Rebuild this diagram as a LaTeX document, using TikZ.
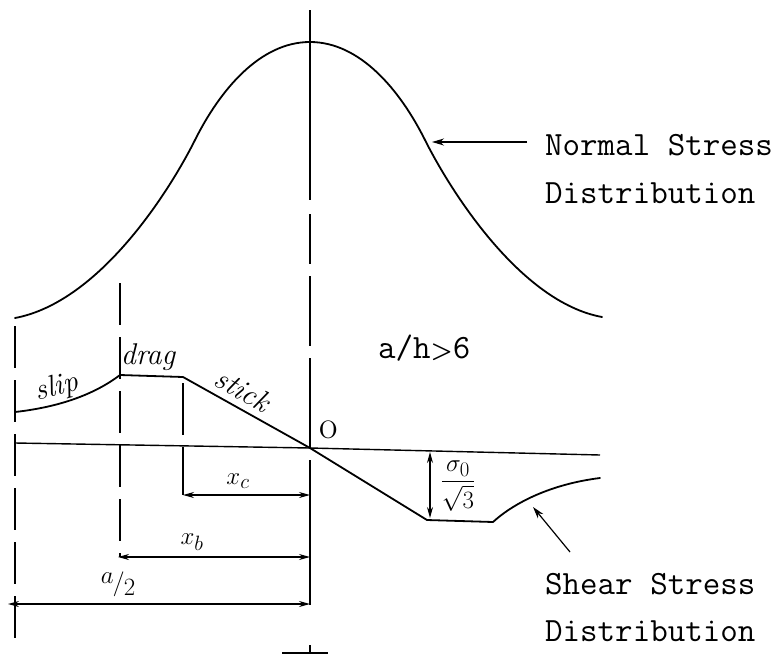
\documentclass[tikz,border=0pt]{standalone}
\usepackage{amsmath}
\usetikzlibrary{arrows.meta}
\begin{document}
\begin{tikzpicture}[x=1pt,y=-1pt,
  curve/.style={line width=1.8pt, line join=round, line cap=round},
  axisline/.style={line width=1.4pt},
  guide/.style={line width=1.4pt, dash pattern=on 42pt off 12pt},
  dimline/.style={line width=1.2pt, {Stealth[length=11pt,width=6pt]}-{Stealth[length=11pt,width=6pt]}},
  pointer/.style={line width=1.2pt, -{Stealth[length=12pt,width=7pt]}},
  hand/.style={font=\fontsize{30}{34}\selectfont\itshape, inner sep=0pt},
  typed/.style={font=\fontsize{34}{40}\selectfont\ttfamily, anchor=base west, inner sep=0pt}]
\useasboundingbox (0,0) rectangle (781,656);

% normal stress distribution
\coordinate (nL) at (15,318);
\coordinate (nIL) at (195,140);
\coordinate (nP) at (310,42);
\coordinate (nIR) at (425,140);
\coordinate (nR) at (602,317);
\draw[curve] (nL) .. controls (100,302) and (170,190) .. (nIL)
  .. controls (220,90) and (260,42) .. (nP)
  .. controls (360,42) and (400,90) .. (nIR)
  .. controls (450,190) and (520,302) .. (nR);

% shear stress distribution
\coordinate (s0) at (15,412);
\coordinate (d1) at (120,375);
\coordinate (d2) at (183,377);
\coordinate (O)  at (310,448);
\coordinate (b1) at (427,520);
\coordinate (b2) at (493,522);
\coordinate (s9) at (600,478);
\draw[curve] (s0) .. controls (60,407) and (95,394) .. (d1) -- (d2) -- (O) -- (b1) -- (b2)
  .. controls (515,502) and (552,484) .. (s9);

% axis
\coordinate (axL) at (15,443);
\coordinate (axR) at (600,455);
\draw[axisline] (axL) -- (O) -- (axR);

% guide lines
\coordinate (cTop) at (310,10);
\coordinate (cBot) at (310,605);
\draw[guide, dash pattern=on 190pt off 14pt on 50pt off 12pt on 70pt off 12pt on 90pt off 12pt on 160pt off 10pt]
  (cTop) -- (cBot);
\coordinate (cT1) at (310,645);
\coordinate (cT2) at (310,653);
\coordinate (cH1) at (282,653);
\coordinate (cH2) at (328,653);
\draw[line width=1.4pt] (cT1) -- (cT2) (cH1) -- (cH2);

\coordinate (lTop) at (15,326);
\coordinate (lBot) at (15,640);
\draw[guide] (lTop) -- (lBot);
\coordinate (bTop) at (120,283);
\coordinate (bBot) at (120,557);
\draw[guide] (bTop) -- (bBot);
\coordinate (cgTop) at (183,383);
\coordinate (cgBot) at (183,495);
\draw[guide, dash pattern=on 52pt off 12pt] (cgTop) -- (cgBot);

% dimensions
\coordinate (xcL) at (183,495);
\coordinate (xcR) at (310,495);
\draw[dimline] (xcL) -- (xcR);
\node[hand] (xc) at (238,481) {$x_c$};
\coordinate (xbL) at (118,557);
\coordinate (xbR) at (310,557);
\draw[dimline] (xbL) -- (xbR);
\node[hand] (xb) at (192,542) {$x_b$};
\coordinate (aL) at (8,604);
\coordinate (aR) at (310,604);
\draw[dimline] (aL) -- (aR);
\node[hand, font=\fontsize{26}{30}\selectfont] (ahalf) at (118,584)
  {\raisebox{7pt}{$a$}\kern-1pt$/$\kern-1pt\raisebox{-5pt}{$2$}};
\coordinate (sgT) at (430,452);
\coordinate (sgB) at (430,518);
\draw[dimline] (sgT) -- (sgB);
\node[hand, font=\fontsize{28}{32}\selectfont] (sg) at (458,486) {$\dfrac{\sigma_0}{\sqrt{3}}$};

% labels on the shear curve
\node[hand, rotate=15] (slip) at (57,388) {slip};
\node[hand] (drag) at (148,357) {drag};
\node[hand, rotate=-30] (stick) at (243,390) {stick};
\node[font=\fontsize{40}{44}\selectfont, inner sep=0pt] (Olab) at (329,430) {o};
\node[typed] (ah) at (378,358) {a/h$\boldsymbol{>}$6};

% text and pointers
\node[typed] (ns1) at (545,155) {Normal Stress};
\node[typed] (ns2) at (545,203) {Distribution};
\coordinate (nsA) at (527,142);
\coordinate (nsB) at (432,142);
\draw[pointer] (nsA) -- (nsB);

\node[typed] (ss1) at (545,594) {Shear Stress};
\node[typed] (ss2) at (545,641) {Distribution};
\coordinate (ssA) at (570,552);
\coordinate (ssB) at (533,507);
\draw[pointer] (ssA) -- (ssB);
\end{tikzpicture}
\end{document}
